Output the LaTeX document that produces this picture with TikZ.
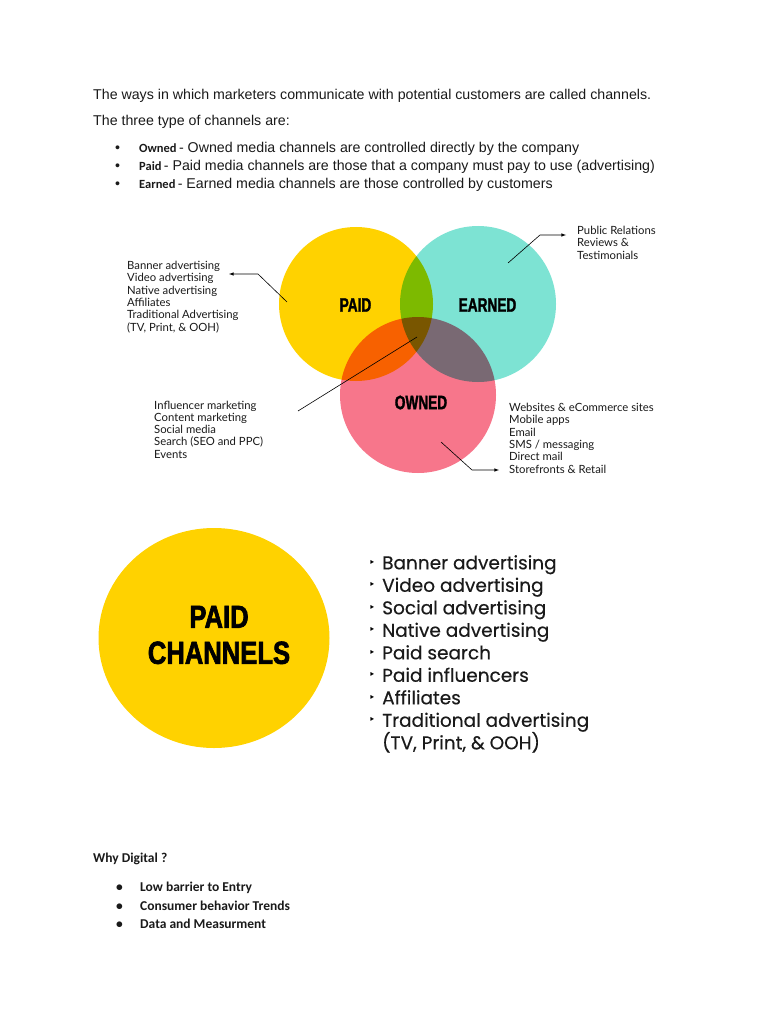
\documentclass[tikz,border=0pt]{standalone}
\usepackage{fontspec}
\setmainfont{Liberation Sans}
\newfontfamily\calFont{Carlito}
\newfontfamily\vennFont{Lato}
\newfontfamily\listFont[FakeBold=0.35]{Poppins}
\newfontfamily\headFont[FakeStretch=0.7,FakeBold=1.5]{Liberation Sans}
\newfontfamily\bigHeadFont[FakeStretch=0.8,FakeBold=2]{Liberation Sans}
\newfontfamily\symFont{DejaVu Sans}
\newcommand\chKeyFont{\calFont\bfseries\fontsize{12.5}{14}\selectfont}
\usepackage{tikz}
\usetikzlibrary{shapes,arrows,positioning,calc}
\definecolor{chPaid}{HTML}{FFD200}
\definecolor{chEarned}{HTML}{7DE3D3}
\definecolor{chOwned}{HTML}{F7768B}
\definecolor{chInk}{HTML}{1A1A1A}
\tikzset{
    chBody/.style={
        anchor=base west,
        inner sep=0pt,
        font=\fontsize{14.2}{16}\selectfont,
        text=chInk
    },
    chCalBody/.style={
        anchor=base west,
        inner sep=0pt,
        font=\calFont\bfseries\fontsize{13.5}{16}\selectfont,
        text=chInk
    },
    chCircle/.style={
        circle,
        inner sep=0pt,
        minimum size=156pt
    },
    % Venn labels
    chTitle/.style={
        inner sep=0pt,
        font=\headFont\bfseries\fontsize{19.5}{22}\selectfont
    },
    chSmallList/.style={
        anchor=north west,
        inner sep=0pt,
        align=left,
        font=\vennFont\fontsize{11.3}{12.3}\selectfont,
        text=chInk
    },
    chBigList/.style={
        anchor=north west,
        inner sep=0pt,
        align=left,
        font=\listFont\fontsize{18.5}{22.5}\selectfont,
        text=chInk
    },
    chMark/.style={
        inner sep=0pt,
        font=\symFont\fontsize{11}{12}\selectfont
    }
}
\begin{document}
\begin{tikzpicture}[
    x=1pt, y=-1pt,
    arrow/.style={->, >=latex, semithick},
    pointer/.style={semithick}
]
    \fill[white] (0,0) rectangle (768,1024);
    \useasboundingbox (0,0) rectangle (768,1024);

    % intro text
    \node[chBody] (intro) at (93,100) {The ways in which marketers communicate with potential customers are called channels.};
    \node[chBody] (three) at (93,126) {The three type of channels are:};
    \node[chBody] (dotOwned) at (115,153) {\textbullet};
    \node[chBody] (dotPaid) at (115,171) {\textbullet};
    \node[chBody] (dotEarned) at (115,189) {\textbullet};
    \node[chBody] (defOwned) at (139,153) {{\chKeyFont Owned}\,- Owned media channels are controlled directly by the company};
    \node[chBody] (defPaid) at (139,171) {{\chKeyFont Paid}\,- Paid media channels are those that a company must pay to use (advertising)};
    \node[chBody] (defEarned) at (139,189) {{\chKeyFont Earned}\,- Earned media channels are those controlled by customers};

    % venn diagram
    \begin{scope}[blend group=multiply]
        \node[chCircle, fill=chPaid, minimum size=154pt] (paid) at (356,304) {};
        \node[chCircle, fill=chEarned] (earned) at (478,304) {};
        \node[chCircle, fill=chOwned] (owned) at (418,395) {};
    \end{scope}
    \node[chTitle] (paidTitle) at (355.5,305) {PAID};
    \node[chTitle] (earnedTitle) at (487.5,305) {EARNED};
    \node[chTitle] (ownedTitle) at (421,402.5) {OWNED};

    \node[chSmallList] (paidList) at (127,261) {Banner advertising\\Video advertising\\Native advertising\\Affiliates\\Traditional Advertising\\(TV, Print, \& OOH)};
    \node[chSmallList] (sharedList) at (154,400.5) {Influencer marketing\\Content marketing\\Social media\\Search (SEO and PPC)\\Events};
    \node[chSmallList] (earnedList) at (577,226) {Public Relations\\Reviews \&\\Testimonials};
    \node[chSmallList] (ownedList) at (509,403) {Websites \& eCommerce sites\\Mobile apps\\Email\\SMS / messaging\\Direct mail\\Storefronts \& Retail};

    \coordinate (paidFrom) at (287,302);
    \coordinate (paidBend) at (258,274);
    \coordinate (paidTo) at (229,274);
    \coordinate (earnedFrom) at (508,263);
    \coordinate (earnedBend) at (540,235);
    \coordinate (earnedTo) at (566,235);
    \coordinate (ownedFrom) at (441,442);
    \coordinate (ownedBend) at (472,470);
    \coordinate (ownedTo) at (499,470);
    \coordinate (sharedFrom) at (298,411);
    \coordinate (sharedTo) at (417,337);

    \draw[arrow] (paidFrom) -- (paidBend) -- (paidTo);
    \draw[arrow] (earnedFrom) -- (earnedBend) -- (earnedTo);
    \draw[arrow] (ownedFrom) -- (ownedBend) -- (ownedTo);
    \draw[pointer] (sharedFrom) -- (sharedTo);

    % paid channels
    \node[ellipse, fill=chPaid, inner sep=0pt, minimum width=231pt, minimum height=220pt] (paidBig) at (214,638) {};
    \node[align=center, inner sep=0pt, font=\bigHeadFont\bfseries\fontsize{32}{36}\selectfont] (paidBigTitle) at (219,635) {PAID\\CHANNELS};
    \node[chBigList] (paidBigList) at (382,555) {Banner advertising\\Video advertising\\Social advertising\\Native advertising\\Paid search\\Paid influencers\\Affiliates\\Traditional advertising\\(TV, Print, \& OOH)};
    \foreach \k in {0,...,7}
        \node[chMark] (mark\k) at (372,{563+22.5*\k}) {‣};

    % why digital
    \node[chCalBody] (why) at (93,862) {Why Digital ?};
    \node[chCalBody] (dotLow) at (116,891) {\textbullet};
    \node[chCalBody] (dotTrend) at (116,910) {\textbullet};
    \node[chCalBody] (dotData) at (116,928) {\textbullet};
    \node[chCalBody] (low) at (140,891) {Low barrier to Entry};
    \node[chCalBody] (trend) at (140,910) {Consumer behavior Trends};
    \node[chCalBody] (data) at (140,928) {Data and Measurment};
\end{tikzpicture}
\end{document}
